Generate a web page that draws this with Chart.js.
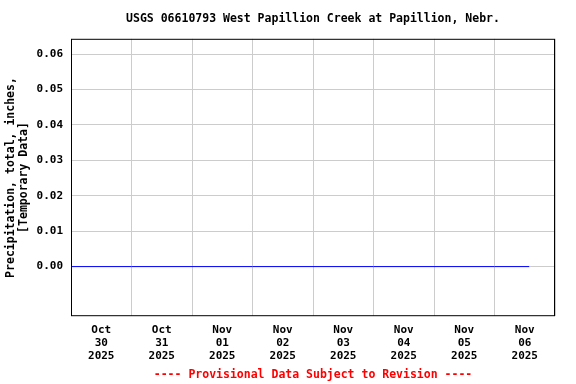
<!DOCTYPE html>
<html>
<head>
<meta charset="utf-8">
<script src="https://cdn.jsdelivr.net/npm/chart.js@4"></script>
<style>
  html, body { margin: 0; padding: 0; background: #fff; }
  canvas { display: block; }
</style>
</head>
<body>
<canvas id="c" width="576" height="384"></canvas>
<script>
// day columns on the x axis
const months = ['Oct', 'Oct', 'Nov', 'Nov', 'Nov', 'Nov', 'Nov', 'Nov'];
const days = ['30', '31', '01', '02', '03', '04', '05', '06'];
const years = ['2025', '2025', '2025', '2025', '2025', '2025', '2025', '2025'];

// hours since Oct 30 00:00 and precipitation (inches)
const hours = [0, 24, 48, 72, 96, 120, 144, 168, 181.75];
const precip = [0, 0, 0, 0, 0, 0, 0, 0, 0];

const yTicks = [0, 0.01, 0.02, 0.03, 0.04, 0.05, 0.06];

const mono = 'DejaVu Sans Mono';
Chart.defaults.color = '#000';
Chart.defaults.font.family = mono;
Chart.defaults.font.weight = 'bold';

const frame = {
    id: 'frame',
    afterDraw(chart) {
        const { ctx, chartArea: a } = chart;
        ctx.save();
        ctx.strokeStyle = '#000';
        ctx.lineWidth = 1;
        ctx.strokeRect(a.left + 0.5, a.top + 0.5, a.right - a.left - 1, a.bottom - a.top - 1);
        ctx.restore();
    }
};

new Chart(document.getElementById('c'), {
    type: 'line',
    data: {
        labels: days,
        datasets: [{
            data: hours.map((h, i) => ({ x: h, y: precip[i] })),
            xAxisID: 'xt',
            borderColor: '#0000ff',
            borderWidth: 1,
            pointRadius: 0,
            fill: false
        }]
    },
    options: {
        responsive: false,
        animation: false,
        devicePixelRatio: 1,
        layout: { padding: { top: 0, right: 21, left: 0, bottom: 0 } },
        plugins: {
            legend: { display: false },
            tooltip: { enabled: false },
            title: {
                display: true,
                fullSize: false,
                text: 'USGS 06610793 West Papillion Creek at Papillion, Nebr.',
                font: { family: mono, size: 11.5, weight: 'bold', lineHeight: 1.2 },
                color: '#000',
                padding: { top: 12, bottom: 13 }
            },
            subtitle: {
                display: true,
                fullSize: false,
                position: 'bottom',
                text: '---- Provisional Data Subject to Revision ----',
                font: { family: mono, size: 11.5, weight: 'bold', lineHeight: 1.2 },
                color: '#ff0000',
                padding: { top: 2, bottom: 2 }
            }
        },
        scales: {
            x: {
                type: 'category',
                offset: true,
                grid: { color: '#cccccc', offset: true, drawTicks: false },
                border: { display: false },
                ticks: {
                    padding: 7,
                    maxRotation: 0,
                    autoSkip: false,
                    font: { family: mono, size: 11, weight: 'bold', lineHeight: 1.2 },
                    callback: (v, i) => [months[i], days[i], years[i]]
                },
                afterFit: s => { s.height = 50; }
            },
            xt: {
                type: 'linear',
                display: false,
                min: 0,
                max: 192
            },
            y: {
                type: 'linear',
                min: -0.0140,
                max: 0.0643,
                afterBuildTicks: s => { s.ticks = yTicks.map(v => ({ value: v })); },
                afterFit: s => { s.width = 71; },
                grid: { color: '#cccccc', drawTicks: false },
                border: { display: false },
                ticks: {
                    padding: 8,
                    font: { family: mono, size: 11, weight: 'bold' },
                    callback: v => v.toFixed(2)
                },
                title: {
                    display: true,
                    text: ['Precipitation, total, inches,', '[Temporary Data]'],
                    font: { family: mono, size: 11.5, weight: 'bold', lineHeight: 1.15 },
                    padding: { top: 4, bottom: 0 }
                }
            }
        }
    },
    plugins: [frame]
});
</script>
</body>
</html>
